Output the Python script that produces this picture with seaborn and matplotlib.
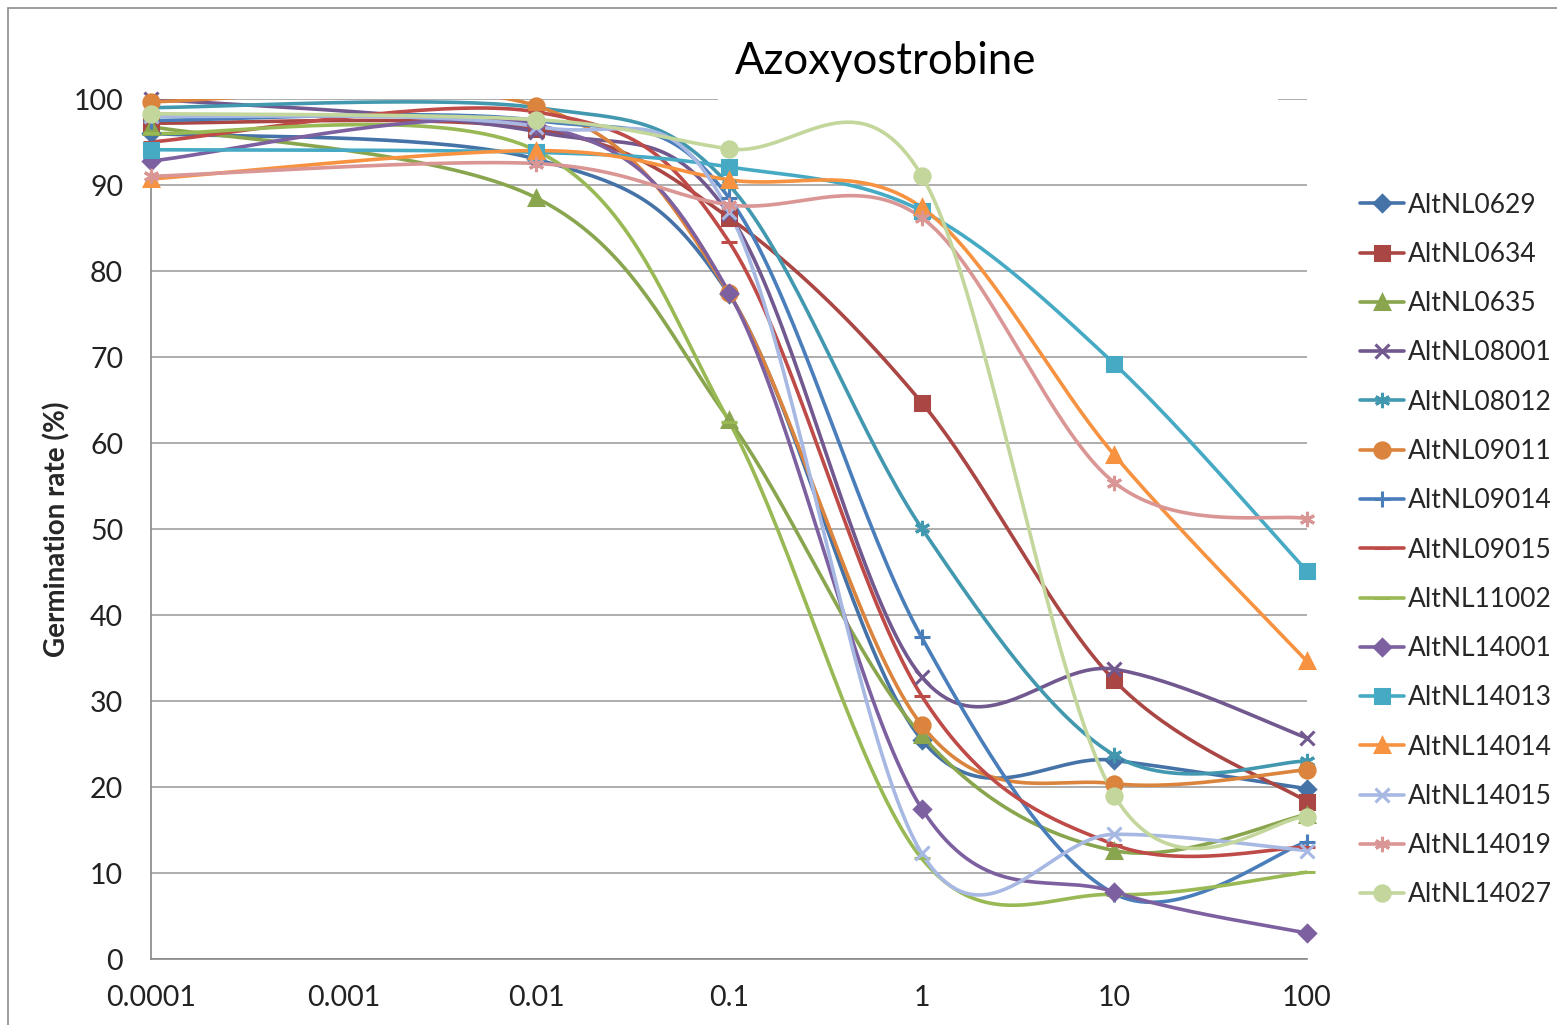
import numpy as np
import seaborn as sns
import matplotlib.pyplot as plt
from matplotlib.lines import Line2D
from matplotlib.patches import Rectangle

# concentrations (x) and germination rate (%) per isolate
concentrations = [0.0001, 0.01, 0.1, 1, 10, 100]
xtick_labels = ['0.0001', '0.001', '0.01', '0.1', '1', '10', '100']

isolates = ['AltNL0629', 'AltNL0634', 'AltNL0635', 'AltNL08001', 'AltNL08012',
            'AltNL09011', 'AltNL09014', 'AltNL09015', 'AltNL11002', 'AltNL14001',
            'AltNL14013', 'AltNL14014', 'AltNL14015', 'AltNL14019', 'AltNL14027']

alt0629 = [96.0, 93.0, 77.3, 25.5, 23.1, 19.8]
alt0634 = [97.2, 96.5, 86.2, 64.7, 32.4, 18.3]
alt0635 = [96.8, 88.5, 62.7, 26.0, 12.6, 16.8]
alt08001 = [100.0, 96.2, 86.6, 32.8, 33.7, 25.7]
alt08012 = [99.0, 99.0, 90.0, 50.1, 23.7, 23.0]
alt09011 = [99.7, 99.2, 77.4, 27.2, 20.4, 22.0]
alt09014 = [97.5, 97.5, 88.5, 37.4, 7.6, 13.6]
alt09015 = [95.0, 98.5, 83.4, 30.6, 13.3, 13.0]
alt11002 = [96.0, 94.0, 62.5, 11.7, 7.5, 10.1]
alt14001 = [92.8, 97.0, 77.5, 17.5, 7.8, 3.0]
alt14013 = [94.1, 93.8, 92.1, 87.0, 69.2, 45.1]
alt14014 = [90.7, 94.0, 90.6, 87.4, 58.6, 34.6]
alt14015 = [98.0, 96.8, 86.9, 12.3, 14.5, 12.6]
alt14019 = [91.0, 92.5, 87.7, 86.2, 55.4, 51.2]
alt14027 = [98.3, 97.6, 94.2, 91.1, 19.0, 16.5]

series = [alt0629, alt0634, alt0635, alt08001, alt08012, alt09011, alt09014,
          alt09015, alt11002, alt14001, alt14013, alt14014, alt14015, alt14019,
          alt14027]

colors = ['#4572A7', '#AA4643', '#89A54E', '#71588F', '#4198AF', '#DB843D',
          '#4A7EBB', '#BE4B48', '#98B954', '#7D60A0', '#46AAC5', '#F69240',
          '#A7B9E3', '#D99694', '#C3D69B']
markers = ['D', 's', '^', 'x', (6, 2, 0), 'o', '+', '_', '_', 'D', 's', '^',
           'x', (6, 2, 0), 'o']
msizes = [8, 10, 10, 10, 11, 11, 11, 11, 11, 8, 10, 10, 10, 11, 11]


def excel_smooth(xs, ys, n=40):
    # Excel style bezier smoothing, done in pixel-like space (log x)
    u = np.log10(xs) * 192.7
    v = np.asarray(ys) * 8.6
    pts = np.column_stack([u, v])
    ext = np.vstack([pts[0], pts, pts[-1]])
    out = []
    t = np.linspace(0, 1, n)[:, None]
    for i in range(len(pts) - 1):
        p0, p1, p2, p3 = ext[i], ext[i + 1], ext[i + 2], ext[i + 3]
        c1 = p1 + (p2 - p0) / 6
        c2 = p2 - (p3 - p1) / 6
        seg = ((1 - t) ** 3) * p1 + 3 * ((1 - t) ** 2) * t * c1 + 3 * (1 - t) * t ** 2 * c2 + t ** 3 * p2
        out.append(seg if i == 0 else seg[1:])
    out = np.vstack(out)
    return 10 ** (out[:, 0] / 192.7), out[:, 1] / 8.6


sns.set_theme(style='white')
plt.rcParams['font.family'] = ['Lato', 'DejaVu Sans']

fig = plt.figure(figsize=(15.57, 10.25), dpi=100)
ax = fig.add_axes([151 / 1557, 1 - 959 / 1025, (1307 - 151) / 1557, (959 - 99) / 1025])

for name, vals, col, mk, ms in zip(isolates, series, colors, markers, msizes):
    sx, sy = excel_smooth(concentrations, vals)
    sns.lineplot(x=sx, y=sy, sort=False, estimator=None, color=col, lw=2.6, ax=ax, zorder=3)
    sns.lineplot(x=concentrations, y=vals, estimator=None, color=col, marker=mk, ms=ms,
                 mec=col, mew=2.2, linestyle='', ax=ax, zorder=4, clip_on=False)

ax.set_xscale('log')
ax.set_xlim(1e-4, 100)
ax.set_ylim(0, 100)
ax.set_xticks([1e-4, 1e-3, 1e-2, 1e-1, 1, 10, 100])
ax.set_xticklabels(xtick_labels)
ax.minorticks_off()
ax.set_yticks(range(0, 101, 10))
ax.tick_params(axis='y', labelsize=20.5, colors='#222222', length=0, pad=20)
ax.tick_params(axis='x', labelsize=20.5, labelcolor='#222222', length=6,
               color='#888888', direction='out', pad=13)

ax.set_axisbelow(True)
ax.yaxis.grid(True, color='#A0A0A0', lw=1.2)
ax.xaxis.grid(False)
for s in ['top', 'right']:
    ax.spines[s].set_visible(False)
for s in ['left', 'bottom']:
    ax.spines[s].set_color('#888888')
    ax.spines[s].set_linewidth(1.2)

ax.set_ylabel('Germination rate (%)', fontsize=20, fontweight='bold', labelpad=2)
ax.set_xlabel('')

# title box hides the top gridline like in the original chart
x0 = 10 ** ((718 - 151) / 192.7 - 4)
x1 = 10 ** ((1278 - 151) / 192.7 - 4)
ax.add_patch(Rectangle((x0, 98.8), x1 - x0, 3, facecolor='white', edgecolor='none',
                       zorder=1, clip_on=False))
fig.text(886 / 1557, 1 - 62 / 1025, 'Azoxyostrobine', fontsize=31.5, ha='center',
         va='center', color='black')

handles = [Line2D([0], [0], color=c, lw=2.6, marker=m, ms=ms, mec=c, mew=2.2)
           for c, m, ms in zip(colors, markers, msizes)]
fig.legend(handles, isolates, loc='center left', bbox_to_anchor=(1360 / 1557, 1 - 550 / 1025),
           frameon=False, fontsize=19, labelspacing=0.92, handlelength=1.65,
           handletextpad=0.15, borderaxespad=0, borderpad=0)

# chart border
fig.add_artist(Line2D([8 / 1557, 8 / 1557], [0, 1 - 8 / 1025], color='#8C8C8C', lw=1.2))
fig.add_artist(Line2D([8 / 1557, 1], [1 - 8 / 1025, 1 - 8 / 1025], color='#8C8C8C', lw=1.2))

fig.savefig('out.png', dpi=100)
